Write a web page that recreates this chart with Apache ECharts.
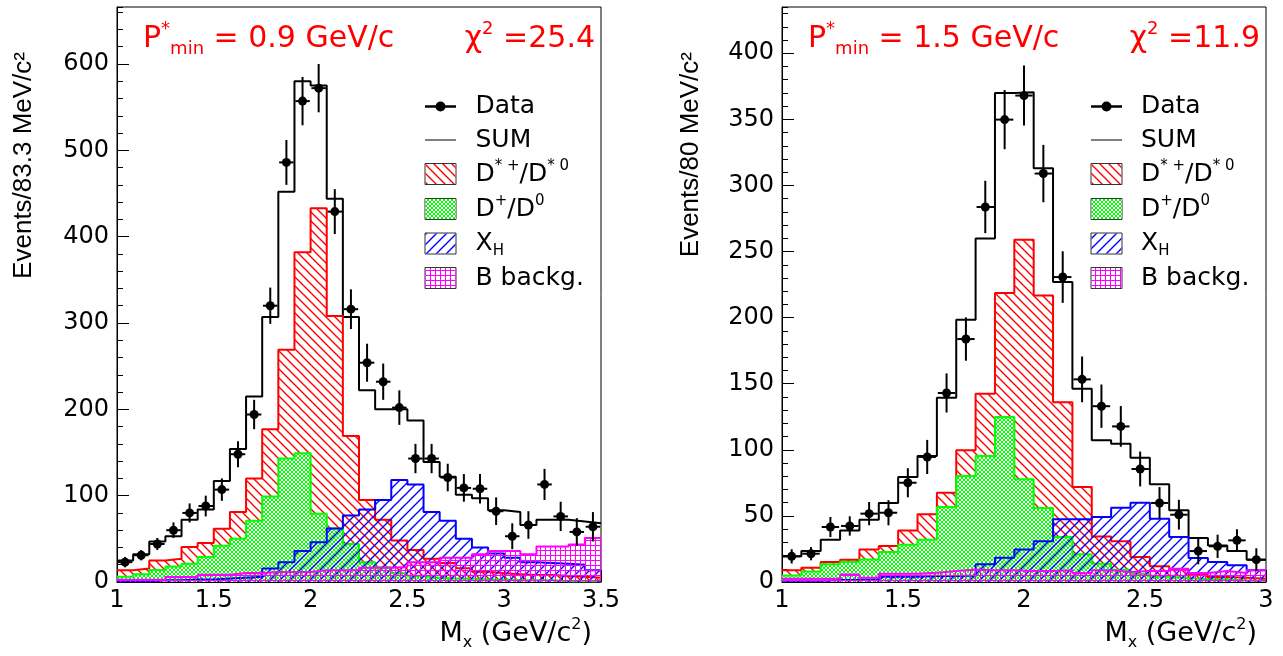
<!DOCTYPE html>
<html><head><meta charset="utf-8">
<script src="https://cdn.jsdelivr.net/npm/echarts@6/dist/echarts.min.js"></script>
<style>html,body{margin:0;padding:0;background:#fff}#c{width:1283px;height:656px}</style>
</head><body><div id="c"></div>
<script>
// ---------- LEFT PANEL (P*min = 0.9 GeV/c), 30 bins of 83.3 MeV from 1 to 3.5 ----------
const leftLo = 1, leftHi = 3.5, leftBins = 30;
const leftData = [23, 31, 44, 60, 80, 88, 107, 148, 194, 320, 486, 557, 572, 429, 316, 254, 232, 202, 143, 143, 121, 109, 108, 82, 53, 66, 113, 76, 58, 64];
const leftErr  = [6, 6, 7, 9, 11, 12, 13, 15, 17, 21, 26, 28, 28, 26, 23, 22, 21, 20, 17, 17, 16, 16, 17, 16, 15, 16, 18, 17, 16, 17];
const leftSum  = [25, 32, 47, 53, 72, 84, 117, 154, 215, 307, 452, 580, 575, 444, 307, 222, 200, 200, 187, 139, 122, 101, 97, 83, 81, 66, 72, 72, 70, 68];
const leftDss  = [13.5, 15.5, 25, 27, 40.6, 45.2, 61.8, 81, 120, 177, 269, 382, 433, 308, 169, 95, 72, 48, 37, 27, 22, 16, 12, 10, 9, 8, 8, 7, 6, 5];
const leftDpm  = [6, 9, 14, 18, 21, 29, 42, 50, 71, 99, 143, 149, 79, 62, 44, 23, 17, 10, 7, 5, 4, 4, 3, 3, 2, 2, 2, 1, 1, 1];
const leftXH   = [1, 1, 2, 2, 3, 3, 4, 5, 6, 15.5, 23, 36, 46, 62, 77, 84, 95, 118, 113, 81, 71, 50, 40, 33, 28, 23, 22, 21, 20, 13.5];
const leftBbg  = [2.7, 2.7, 2.7, 5.8, 5.8, 8.5, 8.5, 10.4, 10.4, 11.6, 11.6, 11.6, 13.5, 13.5, 13.5, 16.6, 16.6, 17.4, 23, 23, 28, 28, 32, 36, 36, 32, 41, 41, 43.5, 51];
const leftYMax = 666;

// ---------- RIGHT PANEL (P*min = 1.5 GeV/c), 25 bins of 80 MeV from 1 to 3 ----------
const rightLo = 1, rightHi = 3, rightBins = 25;
const rightData = [19.4, 21.4, 41.6, 42.4, 51.7, 52.4, 75.1, 94.6, 143, 183.8, 283.7, 349.8, 368, 309, 230.7, 153.3, 133, 117.7, 85.5, 59.8, 50.9, 23.4, 27, 31.5, 16.9];
const rightErr  = [5.4, 5, 7.6, 7.3, 8.8, 9.5, 11, 12.9, 14.8, 16.4, 19.8, 22.4, 22.7, 21.7, 19.5, 17.3, 16.4, 15.4, 13.2, 12, 11.3, 10, 8.8, 8.4, 8.6];
const rightSum  = [19.4, 23.4, 32, 39, 47, 59.8, 79.4, 95.3, 139.4, 198.4, 259.8, 370, 370.6, 313, 227, 146.2, 107.2, 104.6, 94, 73.9, 54.2, 33.3, 27.7, 23.4, 16.9];
const rightDss  = [8.8, 10.8, 15.1, 16.9, 24.5, 27.2, 39, 51.2, 67.6, 99.6, 142.5, 218.6, 259, 216.8, 136, 71.9, 34.5, 30.8, 18.9, 11.9, 9.3, 5.5, 3.8, 3.3, 2.5];
const rightDpm  = [5, 8, 13.4, 15.1, 17, 22.7, 28.2, 32, 56.7, 80.2, 95.3, 124.8, 77.7, 56, 34, 20.9, 13.9, 9.3, 6, 4, 3, 2, 2, 1, 1];
const rightXH   = [1, 1, 1.5, 1.5, 2, 4, 4, 4.5, 4.5, 5, 13.4, 18.4, 24.5, 30.8, 47.4, 47.4, 49.2, 56.2, 60, 47.9, 34, 18.2, 15.1, 12.6, 8.8];
const rightBbg  = [2.5, 2.5, 2.5, 5.6, 3.3, 6.3, 6.3, 7, 8.3, 9.4, 8.8, 8.8, 8.3, 8.3, 8.8, 6.8, 8.8, 7.6, 8.3, 8.3, 10, 6.8, 8.3, 6.8, 8.8];
const rightYMax = 435;

// ---------- text ----------
const leftTitle  = 'P{sup|*}{sub|min} = 0.9 GeV/c';
const leftChi    = 'χ{sup|2} =25.4';
const rightTitle = 'P{sup|*}{sub|min} = 1.5 GeV/c';
const rightChi   = 'χ{sup|2} =11.9';
const leftYTitle  = 'Events/83.3 MeV/c²';
const rightYTitle = 'Events/80 MeV/c²';
const xTitle = 'M{sub|x} (GeV/c{sup|2})';
const legendLabels = ['Data', 'SUM', 'D{sup|* +}/D{sup|* 0}', 'D{sup|+}/D{sup|0}', 'X{sub|H}', 'B backg.'];

// ---------- fill patterns ----------
function tile(size, painter) {
  const c = document.createElement('canvas'); c.width = c.height = size;
  const g = c.getContext('2d'); painter(g, size); return c;
}
function hatch(color, down, size, lw) {
  return tile(size, (g, n) => {
    g.strokeStyle = color; g.lineWidth = lw; g.lineCap = 'square'; g.beginPath();
    for (let k = -1; k <= 1; k++) {
      if (down) { g.moveTo(k * n, 0); g.lineTo(k * n + n, n); }
      else { g.moveTo(k * n, n); g.lineTo(k * n + n, 0); }
    }
    g.stroke();
  });
}
function crossHatch(color, size) {   // opaque: white ground + green mesh
  return tile(size, (g, n) => {
    g.fillStyle = '#ffffff'; g.fillRect(0, 0, n, n);
    g.fillStyle = color; for (let i = 0; i < n; i++) { g.fillRect(i, i, 1, 1); g.fillRect(i, n - 1 - i, 1, 1); }
  });
}
function squareGrid(color, size) {
  return tile(size, (g, n) => { g.fillStyle = color; g.fillRect(0, 0, n, 1); g.fillRect(0, 0, 1, n); });
}
const pat = {
  red: { image: hatch('#ff0000', true, 9, 1.4), repeat: 'repeat' },
  green: { image: crossHatch('#00ff00', 4), repeat: 'repeat' },
  blue: { image: hatch('#0000ff', false, 10, 1.4), repeat: 'repeat' },
  mag: { image: squareGrid('#ff00ff', 5), repeat: 'repeat' }
};

const FONT = 'DejaVu Sans';
const chart = echarts.init(document.getElementById('c'), null, { renderer: 'canvas' });

function stepData(lo, w, vals) {
  const d = vals.map((v, i) => [lo + i * w, v]);
  d.push([lo + vals.length * w, vals[vals.length - 1]]);
  return d;
}
function histSeries(ax, lo, w, vals, color, fill, z) {
  const s = {
    type: 'line', xAxisIndex: ax, yAxisIndex: ax, data: stepData(lo, w, vals), step: 'end',
    symbol: 'none', silent: true, animation: false, z: z,
    lineStyle: { color: color, width: 2 }
  };
  if (fill) s.areaStyle = { color: fill, opacity: 1, origin: 'start' };
  return s;
}
function dataSeries(ax, lo, w, vals, errs) {
  return {
    type: 'custom', xAxisIndex: ax, yAxisIndex: ax, animation: false, silent: true, z: 10,
    data: vals.map((v, i) => [lo + (i + 0.5) * w, v, errs[i], w * 0.45]),
    encode: { x: 0, y: 1 },
    renderItem: function (params, api) {
      const x = api.value(0), y = api.value(1), e = api.value(2), hw = api.value(3);
      const p = api.coord([x, y]), t = api.coord([x, y + e]), b = api.coord([x, y - e]);
      const l = api.coord([x - hw, y]), r = api.coord([x + hw, y]);
      const st = { stroke: '#000', lineWidth: 2 };
      return { type: 'group', children: [
        { type: 'line', shape: { x1: p[0], y1: t[1], x2: p[0], y2: b[1] }, style: st },
        { type: 'line', shape: { x1: l[0], y1: p[1], x2: r[0], y2: p[1] }, style: st },
        { type: 'circle', shape: { cx: p[0], cy: p[1], r: 4.5 }, style: { fill: '#000' } }
      ] };
    }
  };
}
function xMajor(gi, lo, hi) {
  return { gridIndex: gi, type: 'value', min: lo, max: hi, interval: 0.5, position: 'bottom',
    axisLine: { show: true, onZero: false, lineStyle: { color: '#000', width: 1 } },
    axisTick: { show: true, inside: true, length: 12, lineStyle: { color: '#000' } },
    axisLabel: { show: true, margin: 7, fontSize: 24, fontFamily: FONT, color: '#000' },
    splitLine: { show: false } };
}
function xMinor(gi, lo, hi) {
  return { gridIndex: gi, type: 'value', min: lo, max: hi, interval: 0.1, position: 'bottom',
    axisLine: { show: false, onZero: false }, axisLabel: { show: false },
    axisTick: { show: true, inside: true, length: 6, lineStyle: { color: '#000' } },
    splitLine: { show: false } };
}
function yMajor(gi, hi, iv) {
  return { gridIndex: gi, type: 'value', min: 0, max: hi, interval: iv, position: 'left',
    axisLine: { show: true, lineStyle: { color: '#000', width: 1 } },
    axisTick: { show: true, inside: true, length: 12, lineStyle: { color: '#000' } },
    axisLabel: { show: true, margin: 8, fontSize: 24, fontFamily: FONT, color: '#000', showMaxLabel: false },
    splitLine: { show: false } };
}
function yMinor(gi, hi, iv) {
  return { gridIndex: gi, type: 'value', min: 0, max: hi, interval: iv, position: 'left',
    axisLine: { show: false }, axisLabel: { show: false },
    axisTick: { show: true, inside: true, length: 6, lineStyle: { color: '#000' } },
    splitLine: { show: false } };
}

const wL = (leftHi - leftLo) / leftBins, wR = (rightHi - rightLo) / rightBins;

function richBase(size, color, fam) {
  return {
    sup: { fontSize: Math.round(size * 0.6), fontFamily: fam, fill: color, verticalAlign: 'top' },
    sub: { fontSize: Math.round(size * 0.6), fontFamily: fam, fill: color, verticalAlign: 'bottom' }
  };
}
function txt(x, y, text, size, color, align, fam) {
  fam = fam || FONT;
  return { type: 'text', x: x, y: y, silent: true, z: 50,
    style: { text: text, fontSize: size, fontFamily: fam, fill: color, align: align,
      verticalAlign: 'middle', lineHeight: Math.round(size * 1.25), rich: richBase(size, color, fam) } };
}
function legend(symX, textX) {
  const ys = [106.5, 140, 174, 209, 243.5, 278];
  const els = [];
  const sw = 31, sh = 21;
  els.push({ type: 'line', silent: true, z: 50, shape: { x1: symX, y1: ys[0], x2: symX + sw, y2: ys[0] }, style: { stroke: '#000', lineWidth: 2.5 } });
  els.push({ type: 'circle', silent: true, z: 51, shape: { cx: symX + sw / 2, cy: ys[0], r: 5 }, style: { fill: '#000' } });
  els.push({ type: 'line', silent: true, z: 50, shape: { x1: symX, y1: ys[1], x2: symX + sw, y2: ys[1] }, style: { stroke: '#555', lineWidth: 1.5 } });
  const fills = [pat.red, pat.green, pat.blue, pat.mag];
  for (let k = 0; k < 4; k++) {
    els.push({ type: 'rect', silent: true, z: 50, shape: { x: symX, y: ys[k + 2] - sh / 2, width: sw, height: sh },
      style: { fill: '#fff', stroke: '#333', lineWidth: 1 } });
    els.push({ type: 'rect', silent: true, z: 51, shape: { x: symX + 0.5, y: ys[k + 2] - sh / 2 + 0.5, width: sw - 1, height: sh - 1 },
      style: { fill: fills[k] } });
  }
  legendLabels.forEach((t, k) => els.push(txt(textX, ys[k], t, 25, '#000', 'left')));
  return els;
}
function rotated(el) { el.rotation = Math.PI / 2; return el; }

const graphics = [].concat(
  [txt(143, 39, leftTitle, 30, '#ff0000', 'left'),
   txt(595, 39, leftChi, 30, '#ff0000', 'right'),
   txt(808, 39, rightTitle, 30, '#ff0000', 'left'),
   txt(1260, 39, rightChi, 30, '#ff0000', 'right'),
   rotated(txt(24, 52, leftYTitle, 26, '#000', 'right', 'Liberation Sans')),
   rotated(txt(691, 52, rightYTitle, 26, '#000', 'right', 'Liberation Sans')),
   txt(592, 634, xTitle, 27, '#000', 'right'),
   txt(1257, 634, xTitle, 27, '#000', 'right')],
  legend(425, 475.5),
  legend(1091, 1141)
);

const option = {
  animation: false,
  backgroundColor: '#fff',
  grid: [
    { left: 117, top: 7, width: 484, height: 575, show: true, borderColor: '#000', borderWidth: 1, backgroundColor: 'transparent' },
    { left: 782, top: 7, width: 484, height: 575, show: true, borderColor: '#000', borderWidth: 1, backgroundColor: 'transparent' }
  ],
  xAxis: [xMajor(0, leftLo, leftHi), xMinor(0, leftLo, leftHi), xMajor(1, rightLo, rightHi), xMinor(1, rightLo, rightHi)],
  yAxis: [yMajor(0, leftYMax, 100), yMinor(0, leftYMax, 20), yMajor(1, rightYMax, 50), yMinor(1, rightYMax, 10)],
  series: [
    histSeries(0, leftLo, wL, leftSum, '#000', null, 2),
    histSeries(0, leftLo, wL, leftDss, '#ff0000', pat.red, 3),
    histSeries(0, leftLo, wL, leftDpm, '#00ff00', pat.green, 4),
    histSeries(0, leftLo, wL, leftXH, '#0000ff', pat.blue, 5),
    histSeries(0, leftLo, wL, leftBbg, '#ff00ff', pat.mag, 6),
    dataSeries(0, leftLo, wL, leftData, leftErr),
    histSeries(2, rightLo, wR, rightSum, '#000', null, 2),
    histSeries(2, rightLo, wR, rightDss, '#ff0000', pat.red, 3),
    histSeries(2, rightLo, wR, rightDpm, '#00ff00', pat.green, 4),
    histSeries(2, rightLo, wR, rightXH, '#0000ff', pat.blue, 5),
    histSeries(2, rightLo, wR, rightBbg, '#ff00ff', pat.mag, 6),
    dataSeries(2, rightLo, wR, rightData, rightErr)
  ],
  graphic: graphics
};
chart.setOption(option);
</script></body></html>
